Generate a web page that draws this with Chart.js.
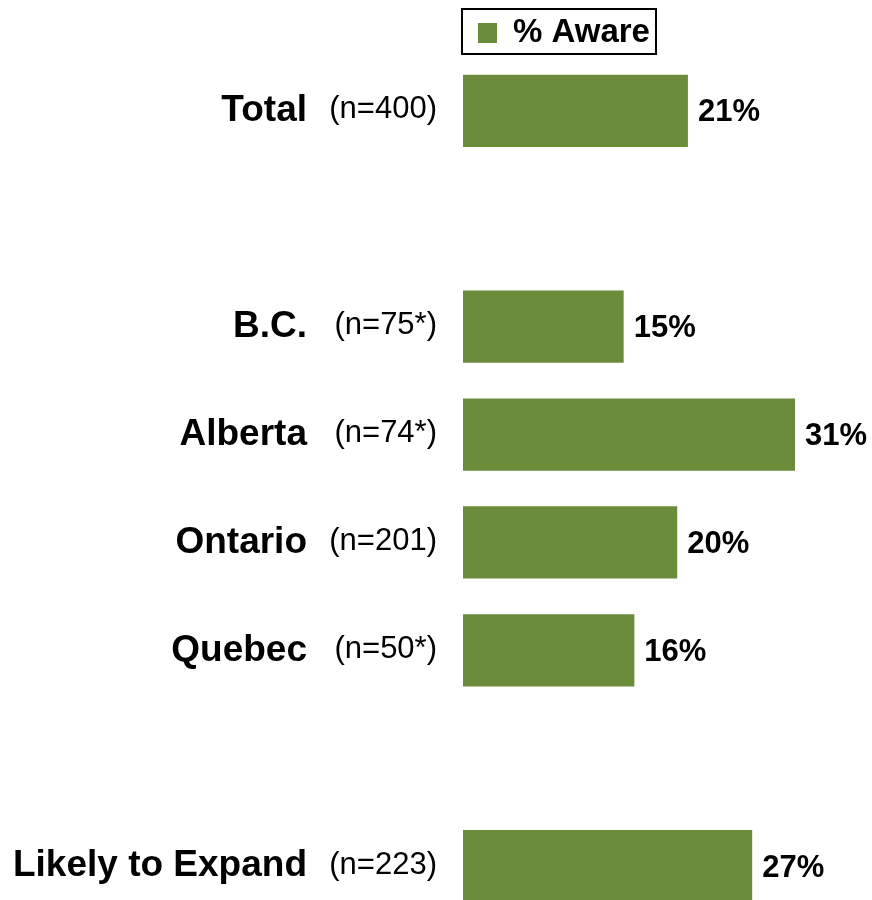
<!DOCTYPE html>
<html>
<head>
<meta charset="utf-8">
<script src="https://cdn.jsdelivr.net/npm/chart.js@4.4.1/dist/chart.umd.min.js"></script>
<style>
  html, body { margin: 0; padding: 0; background: #fff; overflow: hidden; }
  #wrap { width: 872px; height: 900px; overflow: hidden; }
</style>
</head>
<body>
<div id="wrap"><canvas id="chart" width="872" height="925"></canvas></div>
<script>
// categories (blank ones are the gaps between groups)
const categories = ['Total', '', 'B.C.', 'Alberta', 'Ontario', 'Quebec', '', 'Likely to Expand'];
const sampleSizes = ['(n=400)', '', '(n=75*)', '(n=74*)', '(n=201)', '(n=50*)', '', '(n=223)'];
const awareValues = [21, null, 15, 31, 20, 16, null, 27];
const seriesLabel = '% Aware';
const barColor = '#6A8C3B';
const fontFamily = 'Arial, "Liberation Sans", Helvetica, sans-serif';

// n= labels between the names and the bars
const sampleSizePlugin = {
  id: 'sampleSizes',
  afterDraw(chart) {
    const ctx = chart.ctx;
    const yScale = chart.scales.y;
    ctx.save();
    ctx.font = '31px ' + fontFamily;
    ctx.fillStyle = '#000';
    ctx.textAlign = 'right';
    ctx.textBaseline = 'middle';
    sampleSizes.forEach((s, i) => {
      if (!s) return;
      ctx.fillText(s, 437, yScale.getPixelForValue(i) - 1);
    });
    ctx.restore();
  }
};

// values at the end of each bar
const valueLabelPlugin = {
  id: 'valueLabels',
  afterDatasetsDraw(chart) {
    const ctx = chart.ctx;
    const meta = chart.getDatasetMeta(0);
    ctx.save();
    ctx.font = 'bold 31px ' + fontFamily;
    ctx.fillStyle = '#000';
    ctx.textAlign = 'left';
    ctx.textBaseline = 'middle';
    meta.data.forEach((bar, i) => {
      const v = awareValues[i];
      if (v === null || v === undefined) return;
      ctx.fillText(v + '%', bar.x + 10, bar.y + 2);
    });
    ctx.restore();
  }
};

// legend box at the top
const legendBoxPlugin = {
  id: 'legendBox',
  afterDraw(chart) {
    const ctx = chart.ctx;
    ctx.save();
    ctx.fillStyle = '#fff';
    ctx.fillRect(461, 8, 196, 47);
    ctx.strokeStyle = '#000';
    ctx.lineWidth = 2;
    ctx.strokeRect(462, 9, 194, 45);
    ctx.fillStyle = barColor;
    ctx.fillRect(478, 23, 19, 20);
    ctx.fillStyle = '#000';
    ctx.font = 'bold 33px ' + fontFamily;
    ctx.textAlign = 'left';
    ctx.textBaseline = 'middle';
    ctx.fillText(seriesLabel, 513, 33);
    ctx.restore();
  }
};

new Chart(document.getElementById('chart'), {
  type: 'bar',
  data: {
    labels: categories,
    datasets: [{
      label: seriesLabel,
      data: awareValues,
      backgroundColor: barColor,
      borderWidth: 0,
      categoryPercentage: 1,
      barPercentage: 0.67
    }]
  },
  options: {
    indexAxis: 'y',
    responsive: false,
    animation: false,
    devicePixelRatio: 1,
    layout: { padding: { top: 57, bottom: 5, right: 2, left: 0 } },
    plugins: {
      legend: { display: false },
      tooltip: { enabled: false }
    },
    scales: {
      x: {
        display: false,
        min: 0,
        max: 38
      },
      y: {
        grid: { display: false, drawTicks: false },
        border: { display: false },
        ticks: {
          padding: 156,
          autoSkip: false,
          color: '#000',
          font: { family: fontFamily, size: 37, weight: 'bold' }
        },
        afterFit(scale) {
          scale.width = 463;
          scale.paddingTop = 0;
          scale.paddingBottom = 0;
        }
      }
    }
  },
  plugins: [sampleSizePlugin, valueLabelPlugin, legendBoxPlugin]
});
</script>
</body>
</html>
